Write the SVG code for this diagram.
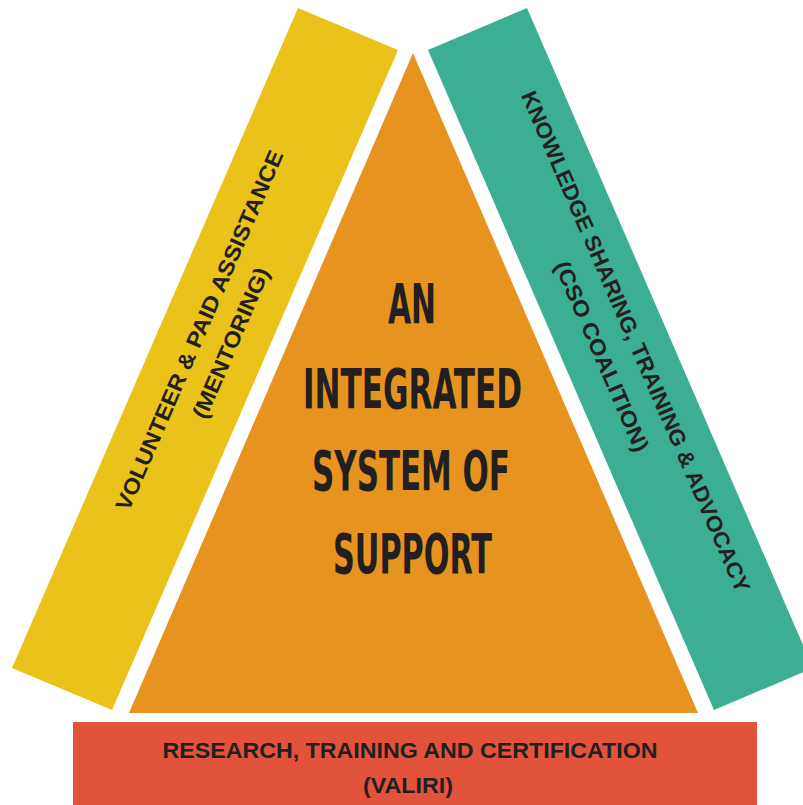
<svg xmlns="http://www.w3.org/2000/svg" width="803" height="805" viewBox="0 0 803 805">
  <style>
    .side { font-family: "Liberation Sans", Arial, sans-serif; font-weight: bold; font-size: 22px; fill: #231F20; text-anchor: middle; }
    .main { font-family: "Liberation Sans Narrow", "DejaVu Sans Condensed", "Liberation Sans", sans-serif; font-weight: bold; font-size: 55px; fill: #231F20; text-anchor: middle; }
  </style>
  <rect width="803" height="805" fill="#FFFFFF"/>
  <g id="volunteer">
    <polygon points="298,8 398,50 112,710 12,668" fill="#EAC219"/>
    <g transform="translate(205,359) rotate(-66.6)">
      <text class="side" x="24" y="-9" textLength="390" lengthAdjust="spacingAndGlyphs">VOLUNTEER &amp; PAID ASSISTANCE</text>
      <text class="side" x="25" y="25" textLength="162" lengthAdjust="spacingAndGlyphs">(MENTORING)</text>
    </g>
  </g>
  <g id="integrated-system">
    <polygon points="413,53 698,713 129,713" fill="#E6931F"/>
    <text class="main" x="412" y="323" textLength="48" lengthAdjust="spacingAndGlyphs">AN</text>
    <text class="main" x="412.5" y="408" textLength="219" lengthAdjust="spacingAndGlyphs">INTEGRATED</text>
    <text class="main" x="411" y="490" textLength="198" lengthAdjust="spacingAndGlyphs">SYSTEM OF</text>
    <text class="main" x="412.5" y="573" textLength="159" lengthAdjust="spacingAndGlyphs">SUPPORT</text>
  </g>
  <g id="knowledge">
    <polygon points="428,50 527,8 813,668 714,710" fill="#3BAE94"/>
    <g transform="translate(619.5,358.5) rotate(66.6)">
      <text class="side" x="-9" y="-14" textLength="544" lengthAdjust="spacingAndGlyphs">KNOWLEDGE SHARING, TRAINING &amp; ADVOCACY</text>
      <text class="side" x="-9" y="23" textLength="205" lengthAdjust="spacingAndGlyphs">(CSO COALITION)</text>
    </g>
  </g>
  <g id="research">
    <rect x="73" y="722" width="684" height="83" fill="#E2533B"/>
    <text class="side" x="410" y="758" textLength="495" lengthAdjust="spacingAndGlyphs">RESEARCH, TRAINING AND CERTIFICATION</text>
    <text class="side" x="408" y="793" textLength="90" lengthAdjust="spacingAndGlyphs">(VALIRI)</text>
  </g>
  <g id="connectors"/>
</svg>
